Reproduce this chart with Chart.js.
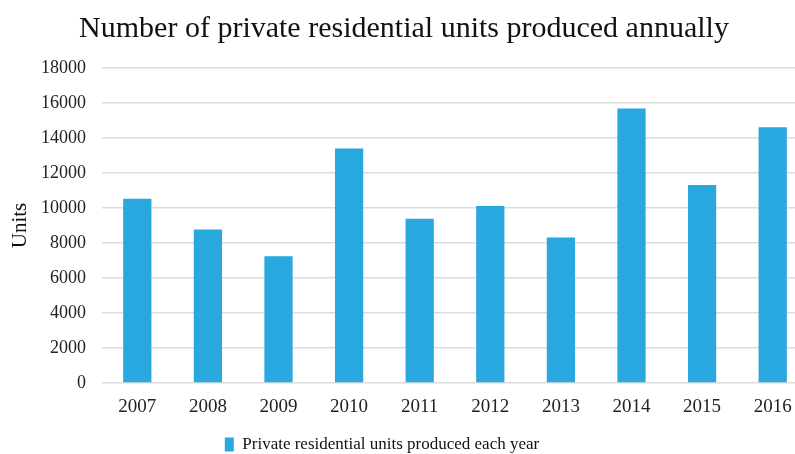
<!DOCTYPE html>
<html>
<head>
<meta charset="utf-8">
<script src="https://cdn.jsdelivr.net/npm/chart.js@4"></script>
<style>
  html, body { margin: 0; padding: 0; background: #fff; overflow: hidden; }
  #wrap { width: 808px; height: 454px; position: relative; }
</style>
</head>
<body>
<div id="wrap"><canvas id="chart"></canvas></div>
<script>
const years = ['2007', '2008', '2009', '2010', '2011', '2012', '2013', '2014', '2015', '2016'];
const unitsProduced = [10530, 8770, 7240, 13400, 9380, 10110, 8310, 15680, 11320, 14610];
const yTicks = [0, 2000, 4000, 6000, 8000, 10000, 12000, 14000, 16000, 18000];

const barBlue = '#29a7df';
const serif = "'Liberation Serif', 'Times New Roman', serif";

// pull the legend a bit left of the canvas centre
const legendShift = {
  id: 'legendShift',
  afterLayout(chart) {
    const lg = chart.legend;
    if (lg) { lg.left -= 22; lg.right -= 22; }
  }
};

new Chart(document.getElementById('chart'), {
  type: 'bar',
  data: {
    labels: years,
    datasets: [{
      label: 'Private residential units produced each year',
      data: unitsProduced,
      backgroundColor: barBlue,
      barPercentage: 0.8,
      categoryPercentage: 0.5
    }]
  },
  options: {
    responsive: true,
    maintainAspectRatio: false,
    animation: false,
    layout: { padding: { top: 0, left: 0, right: 0, bottom: -9 } },
    plugins: {
      title: {
        display: true,
        text: 'Number of private residential units produced annually',
        color: '#111',
        font: { family: serif, size: 30, weight: 'normal' },
        padding: { top: 11, bottom: 21 }
      },
      legend: {
        position: 'bottom',
        labels: {
          color: '#111',
          font: { family: serif, size: 17 },
          boxWidth: 9,
          boxHeight: 14,
          padding: 3
        }
      },
      tooltip: { enabled: false }
    },
    scales: {
      x: {
        grid: { display: false, drawTicks: false },
        border: { display: false },
        ticks: { color: '#222', font: { family: serif, size: 19 }, padding: 13 },
        afterFit: (scale) => { scale.height = 50; }
      },
      y: {
        min: 0,
        max: 18000,
        afterBuildTicks: (scale) => { scale.ticks = yTicks.map(v => ({ value: v })); },
        grid: { color: '#dcdcdc', lineWidth: 1.5, drawTicks: false },
        border: { display: false },
        ticks: {
          color: '#222',
          font: { family: serif, size: 18 },
          padding: 16,
          callback: (v) => String(v)
        },
        title: {
          display: true,
          text: 'Units',
          color: '#111',
          font: { family: serif, size: 21 },
          padding: { top: 8, bottom: 0 }
        },
        afterFit: (scale) => { scale.width = 102; }
      }
    }
  },
  plugins: [legendShift]
});
</script>
</body>
</html>
